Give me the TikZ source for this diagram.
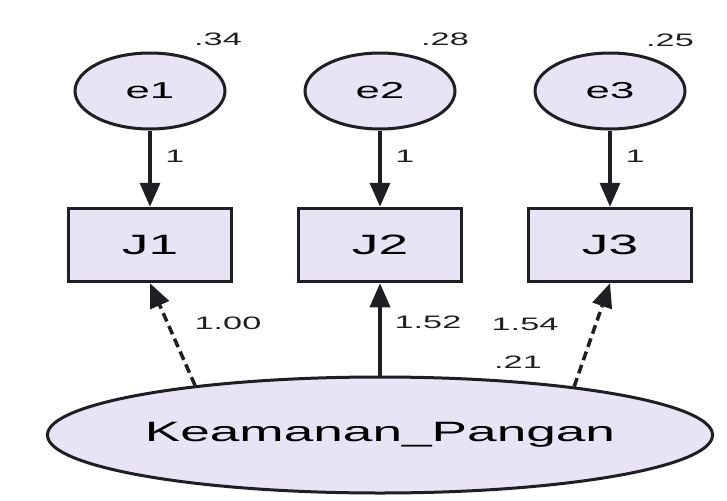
\documentclass[tikz,border=0pt]{standalone}
\usepackage{fontspec}
\setmainfont{Liberation Sans}
\usetikzlibrary{shapes.geometric,arrows.meta}
\definecolor{lav}{RGB}{233,228,245}
\definecolor{ink}{RGB}{30,30,35}
\newcommand{\sx}[2]{{\fontsize{#1}{#1}\selectfont\scalebox{1.9}[1]{#2}}}
\tikzset{
  latent/.style={ellipse, draw=ink, line width=3pt, fill=lav, inner sep=0pt},
  errnode/.style={latent, minimum width=150pt, minimum height=76pt},
  obs/.style={rectangle, draw=ink, line width=3.5pt, fill=lav, minimum width=163pt, minimum height=73pt, inner sep=0pt},
  arr/.style={draw=ink, line width=3.5pt, -{Triangle[length=24pt,width=20pt]}},
  darr/.style={arr, dash pattern=on 9pt off 5pt},
  lbl/.style={text=ink, inner sep=0pt}
}
\begin{document}
\begin{tikzpicture}[x=1pt,y=-1pt]
\useasboundingbox[fill=white] (0,0) rectangle (727,500);
% error terms
\node[errnode] (e1) at (150,91) {\sx{23}{e1}};
\node[errnode] (e2) at (380,91) {\sx{23}{e2}};
\node[errnode] (e3) at (610,91) {\sx{23}{e3}};
% observed
\node[obs] (J1) at (150,245) {\sx{28}{J1}};
\node[obs] (J2) at (380,245) {\sx{28}{J2}};
\node[obs] (J3) at (610,245) {\sx{28}{J3}};
% latent
\node[latent, minimum width=590pt, minimum height=116pt] (K) at (380,435) {\sx{28}{Keamanan\_Pangan}};
% variances
\node[lbl] (v1) at (218,39) {\sx{18}{.34}};
\node[lbl] (v2) at (445,39) {\sx{18}{.28}};
\node[lbl] (v3) at (670,40) {\sx{18}{.25}};
% error arrows
\draw[arr] (e1) -- (J1);
\draw[arr] (e2) -- (J2);
\draw[arr] (e3) -- (J3);
\node[lbl] (w1) at (175,156) {\sx{18}{1}};
\node[lbl] (w2) at (405,156) {\sx{18}{1}};
\node[lbl] (w3) at (635,156) {\sx{18}{1}};
% loadings
\draw[darr] (K.165.6) -- (J1.south);
\draw[arr] (K.north) -- (J2.south);
\draw[darr] (K.14.4) -- (J3.south);
\node[lbl] (l1) at (228,323) {\sx{18}{1.00}};
\node[lbl] (l2) at (428,322) {\sx{18}{1.52}};
\node[lbl] (l3) at (525,324) {\sx{18}{1.54}};
\node[lbl] (r) at (518,362) {\sx{18}{.21}};
\end{tikzpicture}
\end{document}
